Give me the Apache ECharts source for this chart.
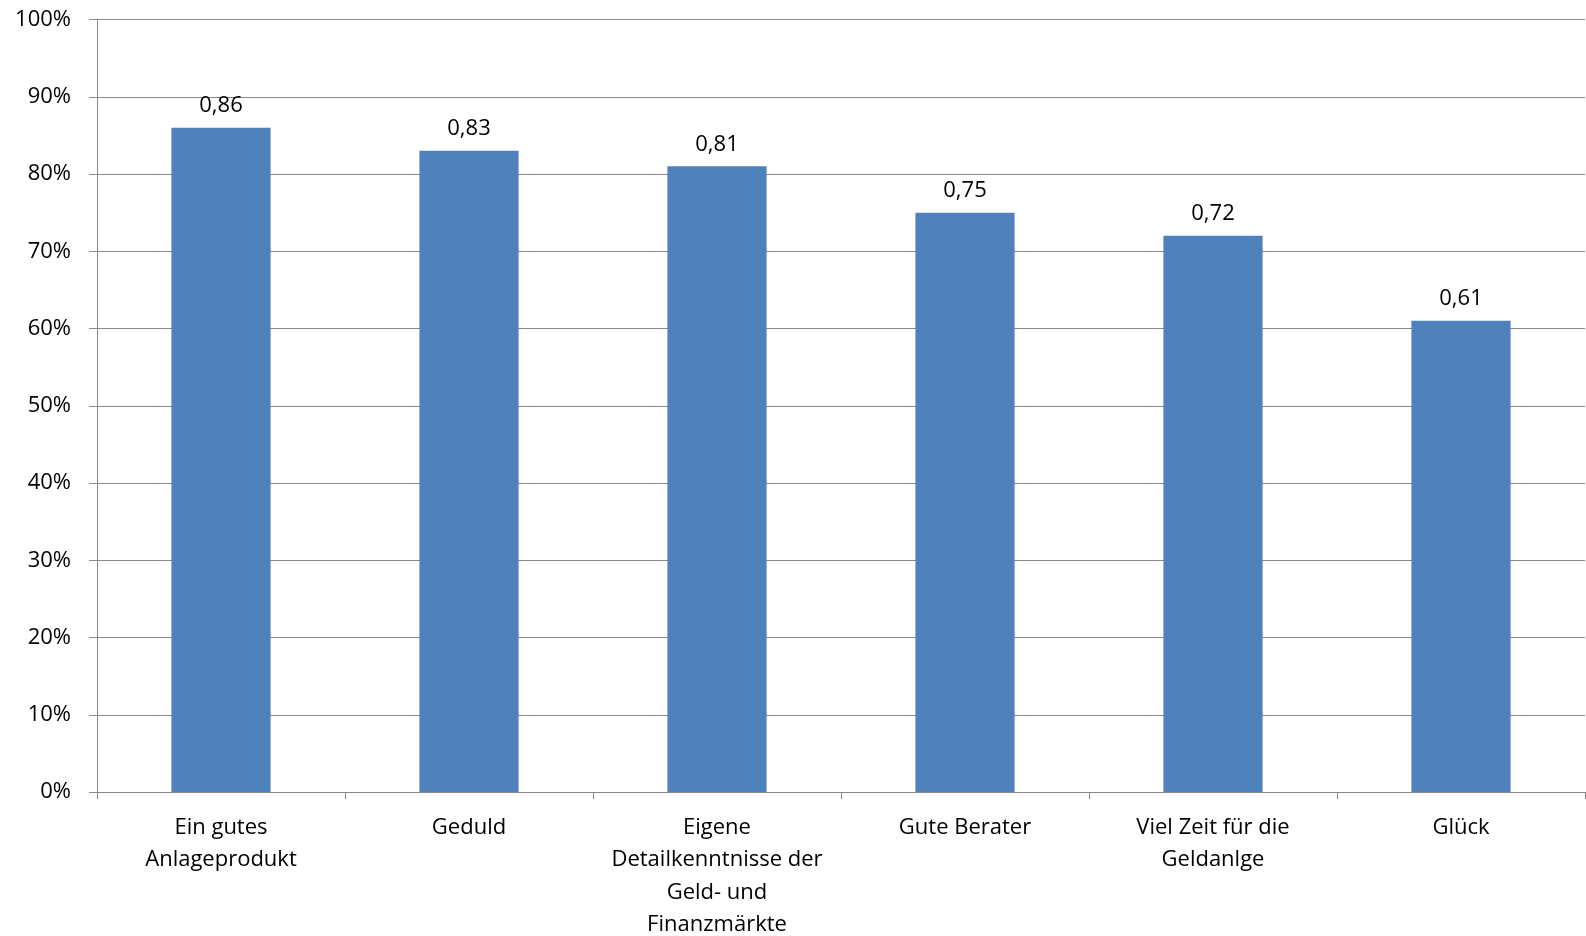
<!DOCTYPE html>
<html><head><meta charset="utf-8">
<script src="https://cdn.jsdelivr.net/npm/echarts@6/dist/echarts.min.js"></script>
<style>html,body{margin:0;padding:0;background:#fff}#c{width:1586px;height:936px}</style>
</head><body><div id="c"></div>
<script>
const categories = ["Ein gutes\nAnlageprodukt", "Geduld", "Eigene\nDetailkenntnisse der\nGeld- und\nFinanzmärkte", "Gute Berater", "Viel Zeit für die\nGeldanlge", "Glück"];
const values = [0.86, 0.83, 0.81, 0.75, 0.72, 0.61];
const yTicks = [0, 0.1, 0.2, 0.3, 0.4, 0.5, 0.6, 0.7, 0.8, 0.9, 1.0];

const FONT = 'Open Sans';
const FS = 22;
const chart = echarts.init(document.getElementById('c'));
chart.setOption({
  animation: false,
  textStyle: {fontFamily: FONT},
  grid: {left: 97, right: 1, top: 19.5, bottom: 144, outerBoundsMode: 'none', containLabel: false},
  xAxis: {
    type: 'category', data: categories,
    axisLine: {lineStyle: {color: '#888', width: 1}},
    axisTick: {show: true, length: 7, lineStyle: {color: '#888'}, alignWithLabel: false},
    axisLabel: {color: '#000', fontSize: FS, fontFamily: FONT, lineHeight: 32.5, margin: 19, interval: 0}
  },
  yAxis: {
    type: 'value', min: yTicks[0], max: yTicks[yTicks.length-1], interval: 0.1,
    axisLine: {show: true, lineStyle: {color: '#888', width: 1}},
    axisTick: {show: true, length: 8, inside: false, lineStyle: {color: '#888'}},
    splitLine: {lineStyle: {color: '#888', width: 1}},
    axisLabel: {color: '#000', fontSize: FS, fontFamily: FONT, margin: 26,
      formatter: v => Math.round(v*100) + '%'}
  },
  series: [{
    type: 'bar', data: values, barWidth: '40%',
    itemStyle: {color: '#4f81bd'},
    label: {show: true, position: 'top', distance: 11, color: '#000', fontSize: FS, fontFamily: FONT,
      formatter: p => p.value.toFixed(2).replace('.', ',')}
  }]
});
</script></body></html>
